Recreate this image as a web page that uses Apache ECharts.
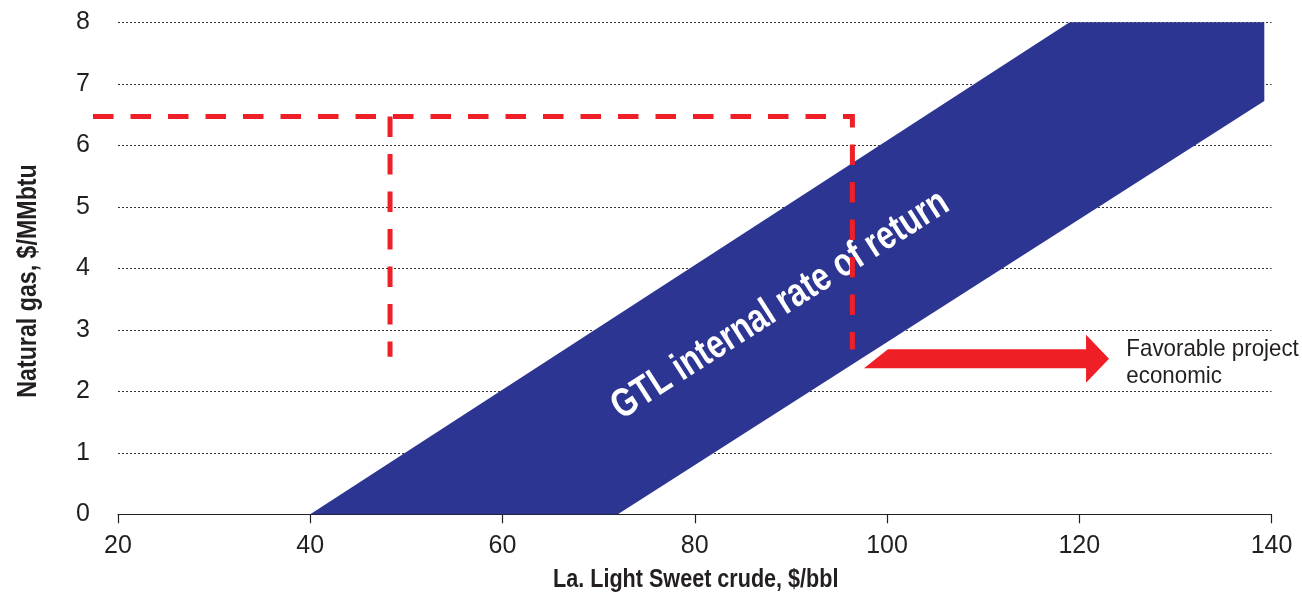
<!DOCTYPE html>
<html>
<head>
<meta charset="utf-8">
<script src="https://cdn.jsdelivr.net/npm/echarts@6/dist/echarts.min.js"></script>
<style>
  html, body { margin: 0; padding: 0; background: #ffffff; }
  #chart { width: 1302px; height: 593px; }
</style>
</head>
<body>
<div id="chart"></div>
<script>
// Axis ranges and ticks
const crudeMin = 20, crudeMax = 140, crudeStep = 20;
const gasMin = 0, gasMax = 8, gasStep = 1;
const crudeTitle = 'La. Light Sweet crude, $/bbl';
const gasTitle = 'Natural gas, $/MMbtu';

// GTL internal-rate-of-return band (crude $/bbl, gas $/MMbtu), outline vertices
const bandCrude = [40, 119, 139.25, 139.25, 72];
const bandGas   = [0, 8, 8, 6.72, 0];
const bandLabel = 'GTL internal rate of return';
const bandLabelAt = [88.9, 3.4];

// Red dashed reference lines
const refOuterCrude = [17.4, 96.4, 96.4];
const refOuterGas   = [6.47, 6.47, 2.68];
const refInnerCrude = [48.3, 48.3];
const refInnerGas   = [6.47, 2.56];

// Arrow and note
const arrowCrude = [98.85, 123.1];   // tail, tip
const arrowGas = 2.53;
const noteText = 'Favorable project\neconomic';
const noteAt = [124.9, 2.47];

// Helvetica-like face, squeezed horizontally to a condensed width
const FONT = "'Liberation Sans', Arial, sans-serif";
const NARROW = 0.83;
const INK = '#231f20';
const BLUE = '#2c3592';
const RED = '#ee1f26';

const GRID = { left: 118, right: 30.5, top: 22.3, bottom: 78.7 };

const chart = echarts.init(document.getElementById('chart'), null, { renderer: 'canvas' });

function toPixels(api, xs, ys) {
  return xs.map((x, i) => api.coord([x, ys[i]]));
}

const plotMidX = GRID.left + (1302 - GRID.left - GRID.right) / 2;

const option = {
  backgroundColor: '#ffffff',
  animation: false,
  grid: Object.assign({ outerBoundsMode: 'none', containLabel: false }, GRID),
  graphic: [
    {
      type: 'text', x: plotMidX + 1, y: 580, scaleX: NARROW, silent: true,
      style: { text: crudeTitle, font: 'bold 26px ' + FONT, fill: INK, align: 'center', verticalAlign: 'middle' }
    },
    {
      type: 'text', x: 29, y: 281, rotation: Math.PI / 2, scaleX: 0.86, silent: true,
      style: { text: gasTitle, font: 'bold 27px ' + FONT, fill: INK, align: 'center', verticalAlign: 'middle' }
    }
  ],
  xAxis: {
    type: 'value', min: crudeMin, max: crudeMax, interval: crudeStep,
    axisLine: { show: true, lineStyle: { color: INK, width: 1.2 } },
    axisTick: { show: true, length: 9, inside: false, lineStyle: { color: INK, width: 1.2 } },
    axisLabel: { fontFamily: FONT, fontSize: 25, color: INK, margin: 19, hideOverlap: false },
    splitLine: { show: false }
  },
  yAxis: {
    type: 'value', min: gasMin, max: gasMax, interval: gasStep,
    axisLine: { show: false },
    axisTick: { show: false },
    axisLabel: { fontFamily: FONT, fontSize: 25, color: INK, margin: 28, hideOverlap: false, padding: [4, 0, 0, 0] },
    splitLine: { show: true, lineStyle: { color: '#333333', width: 1, type: [2, 2] } }
  },
  series: [
    {
      // the band
      type: 'custom', coordinateSystem: 'cartesian2d', silent: true, clip: false, z: 2,
      data: [[0]],
      renderItem: function (params, api) {
        const pts = toPixels(api, bandCrude, bandGas);
        const a = api.coord([bandLabelAt[0], bandLabelAt[1]]);
        const b = api.coord([bandLabelAt[0] + 10, bandLabelAt[1] + 1]);
        const angle = Math.atan2(a[1] - b[1], b[0] - a[0]);
        return {
          type: 'group',
          children: [
            { type: 'polygon', shape: { points: pts }, style: { fill: BLUE } },
            {
              type: 'text', x: a[0], y: a[1], rotation: angle, scaleX: 0.79, z2: 20,
              style: {
                text: bandLabel, fill: '#ffffff', font: 'bold 40px ' + FONT,
                align: 'center', verticalAlign: 'middle'
              }
            }
          ]
        };
      }
    },
    {
      // dashed reference lines
      type: 'custom', coordinateSystem: 'cartesian2d', silent: true, clip: false, z: 3,
      data: [[0]],
      renderItem: function (params, api) {
        const dashStyle = { stroke: RED, lineWidth: 5, lineDash: [20.5, 17], fill: null, lineCap: 'butt' };
        return {
          type: 'group',
          children: [
            { type: 'polyline', shape: { points: toPixels(api, refOuterCrude, refOuterGas) }, style: dashStyle },
            { type: 'polyline', shape: { points: toPixels(api, refInnerCrude, refInnerGas) }, style: dashStyle }
          ]
        };
      }
    },
    {
      // arrow and note
      type: 'custom', coordinateSystem: 'cartesian2d', silent: true, clip: false, z: 4,
      data: [[0]],
      renderItem: function (params, api) {
        const tail = api.coord([arrowCrude[0], arrowGas]);
        const tip = api.coord([arrowCrude[1], arrowGas]);
        const cy = tail[1];
        const shaft = 9.5, head = 24, headLen = 23, slant = 12;
        const baseX = tip[0] - headLen;
        const pts = [
          [tail[0] - slant, cy + shaft],
          [tail[0] + slant, cy - shaft],
          [baseX, cy - shaft],
          [baseX, cy - head],
          [tip[0], cy],
          [baseX, cy + head],
          [baseX, cy + shaft]
        ];
        const n = api.coord(noteAt);
        return {
          type: 'group',
          children: [
            { type: 'polygon', shape: { points: pts }, style: { fill: RED } },
            {
              type: 'text', x: n[0], y: n[1], scaleX: 0.93,
              style: {
                text: noteText, fill: INK, font: '24px ' + FONT,
                align: 'left', verticalAlign: 'middle', lineHeight: 27
              }
            }
          ]
        };
      }
    }
  ]
};

chart.setOption(option);
</script>
</body>
</html>
